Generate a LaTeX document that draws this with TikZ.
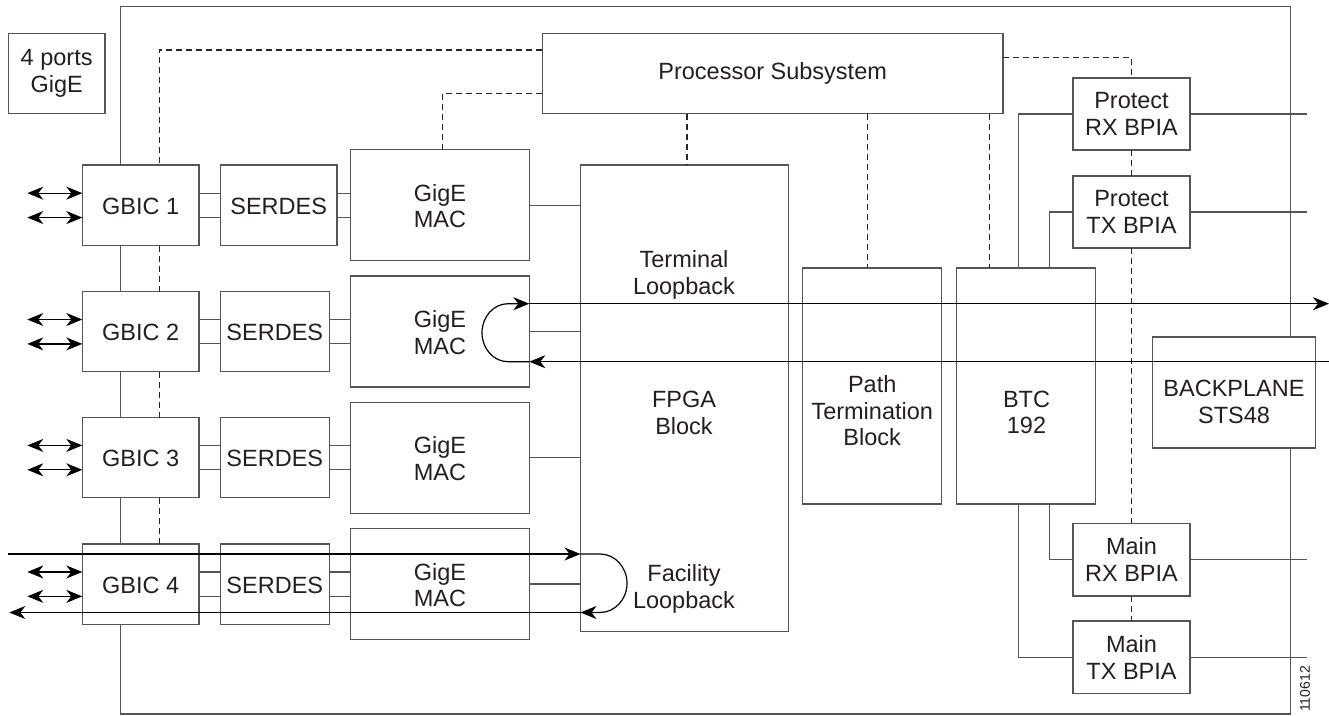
\documentclass[tikz,border=0pt]{standalone}
\usepackage{fontspec}
\setmainfont{Liberation Sans}
\usetikzlibrary{arrows.meta,fit,calc}
\definecolor{boxgray}{HTML}{555555}
\definecolor{txt}{HTML}{231F20}
\begin{document}
\begin{tikzpicture}[x=1pt,y=-1pt,
  box/.style={draw=boxgray, line width=1.1pt, inner sep=0pt, outer sep=0pt},
  lab/.style={font=\fontsize{23.5}{26.5}\selectfont, align=center, text=txt, inner sep=0pt},
  ln/.style={draw=boxgray, line width=1.1pt},
  dsh/.style={draw=black!85, line width=1.1pt, dash pattern=on 6pt off 4pt},
  sig/.style={draw=black, line width=1.2pt},
  tip/.style={-{Stealth[length=16pt,width=13pt,inset=5pt]}},
  dtip/.style={{Stealth[length=16pt,width=13pt,inset=5pt]}-{Stealth[length=16pt,width=13pt,inset=5pt]}}
]
\useasboundingbox (0,0) rectangle (1329,715);

% boxes
\node[box, fit={(8.3,33.3) (105,113.7)}] (ports) {};
\node[box, fit={(542.3,33.3) (1003,113.7)}] (proc) {};

\node[box, fit={(82.3,165) (199,245.7)}] (g1) {};
\node[box, fit={(82.3,291.7) (199,371.7)}] (g2) {};
\node[box, fit={(82.3,417.5) (199,497.7)}] (g3) {};
\node[box, fit={(82.3,544) (199,624.3)}] (g4) {};

\node[box, fit={(220.3,165) (337,245.7)}] (s1) {};
\node[box, fit={(220.3,291.7) (329.3,371.7)}] (s2) {};
\node[box, fit={(220.3,417.5) (329.3,497.7)}] (s3) {};
\node[box, fit={(220.3,544) (329.3,624.3)}] (s4) {};

\node[box, fit={(350.7,149.7) (529.3,260.7)}] (m1) {};
\node[box, fit={(350.7,276) (529.3,387)}] (m2) {};
\node[box, fit={(350.7,402.3) (529.3,513.3)}] (m3) {};
\node[box, fit={(350.7,528.7) (529.3,639.3)}] (m4) {};

\node[box, fit={(580.5,165) (788.7,631.7)}] (fpga) {};
\node[box, fit={(802.7,268) (941.7,504)}] (pt) {};
\node[box, fit={(956.7,268) (1095.7,504)}] (btc) {};
\node[box, fit={(1152.7,337) (1315.3,448)}] (bp) {};

\node[box, fit={(1073,78) (1190,150)}] (prx) {};
\node[box, fit={(1073,176) (1190,248)}] (ptx) {};
\node[box, fit={(1073,523.3) (1190,596)}] (mrx) {};
\node[box, fit={(1073,621) (1190,693.7)}] (mtx) {};

% texts
\node[lab] (portst) at (ports) {4 ports\\GigE};
\node[lab] (proct) at (proc) {Processor Subsystem};
\foreach \r in {1,...,4}{
  \node[lab] (g\r t) at ($(g\r)+(0,1)$) {GBIC \r};
  \node[lab] (s\r t) at ($(s\r)+(0,1)$) {SERDES};
  \node[lab] (m\r t) at ($(m\r)+(0,1)$) {GigE\\MAC};
}
\node[lab] (prxt) at (prx) {Protect\\RX BPIA};
\node[lab] (ptxt) at (ptx) {Protect\\TX BPIA};
\node[lab] (mrxt) at (mrx) {Main\\RX BPIA};
\node[lab] (mtxt) at (mtx) {Main\\TX BPIA};
\node[lab] (tlb) at (684,275) {Terminal\\Loopback};
\node[lab] (fpb) at (684,413) {FPGA\\Block};
\node[lab] (flb) at (684,589) {Facility\\Loopback};
\node[lab] (ptl) at (872.2,411) {Path\\Termination\\Block};
\node[lab] (btl) at (1026.5,412.5) {BTC\\192};
\node[lab] (bpl) at (1234,402) {BACKPLANE\\STS48};
\node[font=\fontsize{14}{16}\selectfont, text=txt, rotate=90, inner sep=0pt] (fig) at (1305,689) {110612};

% frame
\coordinate (TL) at (120.7,6.7);
\coordinate (TR) at (1290.7,6.7);
\coordinate (BL) at (120.7,714);
\coordinate (BR) at (1290.7,714);
\draw[ln] (g1.north -| TL) -- (TL) -- (TR) -- (TR |- bp.north);
\draw[ln] (TR |- bp.south) -- (BR) -- (BL) -- (BL |- g4.south);
\draw[ln] (g1.south -| TL) -- (g2.north -| TL);
\draw[ln] (g2.south -| TL) -- (g3.north -| TL);
\draw[ln] (g3.south -| TL) -- (g4.north -| TL);

% dashed control lines
\coordinate (D) at (159.3,50);
\draw[dsh] (proc.west |- D) -- (D) -- (D |- g1.north);
\draw[dsh] (g1.south -| D) -- (g2.north -| D);
\draw[dsh] (g2.south -| D) -- (g3.north -| D);
\draw[dsh] (g3.south -| D) -- (g4.north -| D);
\coordinate (D2) at (442.7,93.7);
\draw[dsh] (proc.west |- D2) -- (D2) -- (D2 |- m1.north);
\coordinate (D3) at (687,0);
\draw[dsh] (proc.south -| D3) -- (fpga.north -| D3);
\coordinate (D4) at (867.7,0);
\draw[dsh] (proc.south -| D4) -- (pt.north -| D4);
\coordinate (D5) at (989.7,0);
\draw[dsh] (proc.south -| D5) -- (btc.north -| D5);
\coordinate (D6) at (prx.north |- 0,57.7);
\draw[dsh] (proc.east |- D6) -- (D6) -- (prx.north);
\draw[dsh] (prx.south) -- (ptx.north);
\draw[dsh] (ptx.south) -- (mrx.north);
\draw[dsh] (mrx.south) -- (mtx.north);

% data connections
\foreach \r in {1,...,4}{
  \draw[ln] ($(g\r.east)+(0,-12.2)$) coordinate (a) -- (a -| s\r.west);
  \draw[ln] ($(g\r.east)+(0,12.2)$) coordinate (a) -- (a -| s\r.west);
  \draw[ln] ($(s\r.east)+(0,-12.2)$) coordinate (a) -- (a -| m\r.west);
  \draw[ln] ($(s\r.east)+(0,12.2)$) coordinate (a) -- (a -| m\r.west);
  \draw[ln] (m\r.east) -- (m\r.east -| fpga.west);
  \coordinate (la\r) at ($(g\r.west)+(-55,-12.2)$);
  \coordinate (lb\r) at ($(g\r.west)+(-55,12.2)$);
  \draw[sig, dtip] (la\r) -- (la\r -| g\r.west);
  \draw[sig, dtip] (lb\r) -- (lb\r -| g\r.west);
}

% BTC to BPIAs
\coordinate (X1) at (1018.7,0);
\coordinate (X2) at (1049.7,0);
\draw[ln] (prx.west) -| (btc.north -| X1);
\draw[ln] (ptx.west) -| (btc.north -| X2);
\draw[ln] (mrx.west) -| (btc.south -| X2);
\draw[ln] (mtx.west) -| (btc.south -| X1);
\coordinate (E) at (1307,0);
\draw[ln] (prx.east) -- (prx.east -| E);
\draw[ln] (ptx.east) -- (ptx.east -| E);
\draw[ln] (mrx.east) -- (mrx.east -| E);
\draw[ln] (mtx.east) -- (mtx.east -| E);

% terminal loopback
\coordinate (Tu) at (m2.east |- 0,303.7);
\coordinate (Tl) at (m2.east |- 0,361.7);
\coordinate (Ru) at (1329,303.7);
\coordinate (Rl) at (1329,361.7);
\draw[sig, tip] (Tu) -- (Ru);
\draw[sig, tip] (Rl) -- (Tl);
\draw[sig, tip] (Tl) -- (508,361.7) arc[start angle=90, end angle=270, x radius=26, y radius=29] -- (Tu);

% facility loopback
\coordinate (Fu) at (fpga.west |- 0,554);
\coordinate (Fl) at (fpga.west |- 0,612.5);
\coordinate (Lu) at (8.3,554);
\coordinate (Ll) at (9.3,612.5);
\draw[sig, tip] (Lu) -- (Fu);
\draw[sig, tip] (Fu) -- (600,554) arc[start angle=270, end angle=450, x radius=27, y radius=29.25] -- (Fl);
\draw[sig, tip] (Fl) -- (Ll);
\end{tikzpicture}
\end{document}
